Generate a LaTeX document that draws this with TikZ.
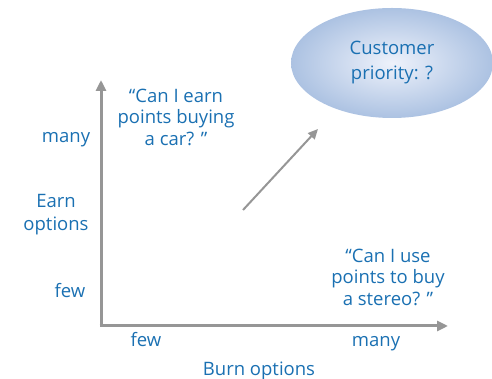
\documentclass[tikz,border=0pt]{standalone}
\usepackage{fontspec}
\setmainfont{Open Sans}
\usetikzlibrary{arrows.meta,positioning,shapes.geometric}
\definecolor{labelblue}{RGB}{26,112,178}
\definecolor{axisgray}{RGB}{150,150,150}
\definecolor{ovalout}{RGB}{172,194,226}
\definecolor{ovalin}{RGB}{238,242,251}

\begin{document}
\begin{tikzpicture}[x=1pt,y=1pt]
    \tikzset{
      lbl/.style={text=labelblue,font=\fontsize{18.5}{21.5}\selectfont,inner sep=0pt,align=center},
      axis/.style={-{Triangle[length=11pt,width=10pt]},draw=axisgray,line width=3pt},
      pointer/.style={-{Triangle[length=10pt,width=9pt]},draw=axisgray,line width=2pt}
    }
    \useasboundingbox (0,0) rectangle (492,379);
    % axes
    \coordinate (origin) at (101,53);
    \coordinate (ytip) at (101,299);
    \coordinate (xtip) at (448,53);
    \draw[axis] (origin) -- (ytip);
    \draw[axis] ([xshift=-1.5pt]origin) -- (xtip);

    % oval
    \node[ellipse,minimum width=202pt,minimum height=110pt,inner color=ovalin,outer color=ovalout,lbl,font=\fontsize{18.5}{25}\selectfont] (priority) at (392,316) {Customer\\priority: ?};

    % labels
    \node[lbl] (carq) at (176,262) {“Can I earn\\points buying\\a car? ”};
    \node[lbl] (stereoq) at (388,102) {“Can I use\\points to buy\\a stereo? ”};
    \node[lbl,anchor=base] (ymany) at (66,236) {many};
    \node[lbl,font=\fontsize{18.5}{23}\selectfont] (earn) at (56,164) {Earn\\options};
    \node[lbl,anchor=base] (yfew) at (70,81) {few};
    \node[lbl,anchor=base] (xfew) at (146,32) {few};
    \node[lbl,anchor=base] (xmany) at (376,32) {many};
    \node[lbl,anchor=base] (burn) at (259,3) {Burn options};

    % direction
    \coordinate (start) at (243,169);
    \coordinate (goal) at (318,250);
    \draw[pointer] (start) -- (goal);
\end{tikzpicture}
\end{document}
